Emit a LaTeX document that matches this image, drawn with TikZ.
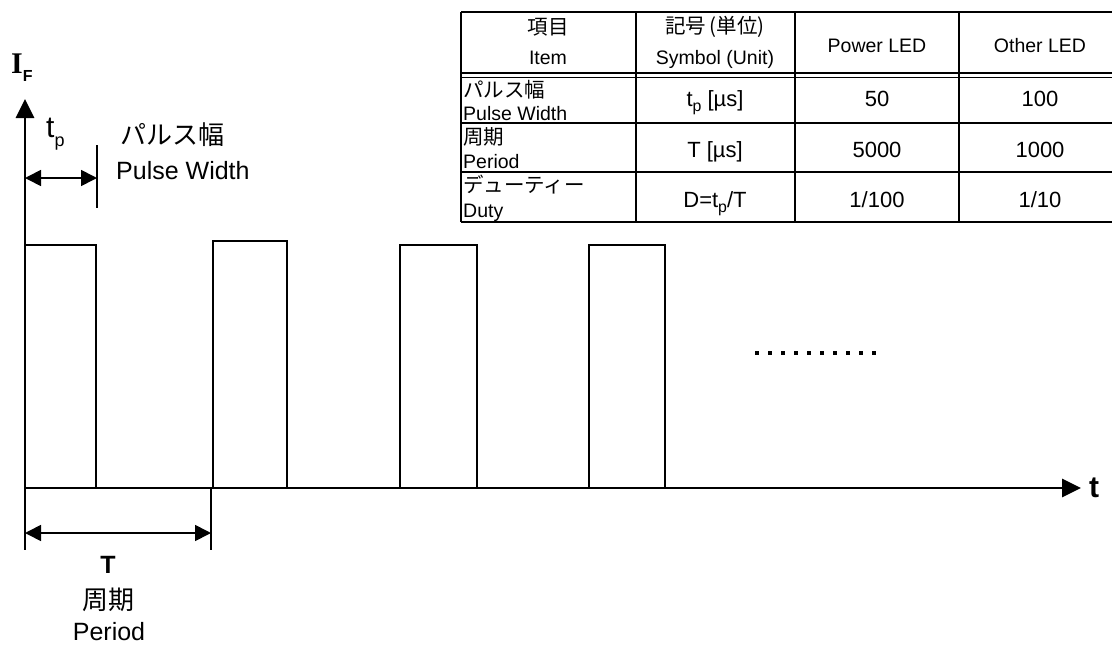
\documentclass[tikz,border=0pt]{standalone}
\usepackage{fontspec}
\usepackage{graphicx}
\setmainfont{Liberation Sans}
\newfontfamily\jp{Noto Sans CJK JP}
\newfontfamily\serifb{Liberation Serif}
\usetikzlibrary{arrows.meta}
\newcommand\sbs[1]{\raisebox{-0.25em}{\scalebox{0.72}{#1}}}
\begin{document}
\begin{tikzpicture}[x=1pt,y=-1pt,
  axis/.style={line width=2.8pt,-{Triangle[length=19pt,width=18pt]}},
  pulse/.style={line width=1.9pt},
  dimarrow/.style={line width=1.7pt,{Triangle[length=16pt,width=16pt]}-{Triangle[length=16pt,width=16pt]}},
  dimtick/.style={line width=1.6pt},
  rule/.style={line width=2.3pt},
  thinrule/.style={line width=1.7pt},
  big/.style={inner sep=0pt,font=\fontsize{25}{28}\selectfont},
  bigjp/.style={inner sep=0pt,font=\jp\fontsize{26}{28}\selectfont},
  cell/.style={inner sep=0pt,font=\fontsize{19.5}{21}\selectfont},
  celljp/.style={inner sep=0pt,font=\jp\fontsize{20.5}{22}\selectfont},
  val/.style={inner sep=0pt,anchor=base,font=\fontsize{22}{24}\selectfont},
  dotmark/.style={fill=black}
]
\useasboundingbox (0,0) rectangle (1112,645);

% ---------- axes ----------
\coordinate (O) at (25,488);
\coordinate (Ytip) at (25,99);
\coordinate (Xtip) at (1081,488);
\draw[axis] (O) -- (Ytip);
\draw[axis] (O) -- (Xtip);
\node[anchor=base west,inner sep=0pt] (IF) at (11,73)
  {{\serifb\bfseries\fontsize{30}{30}\selectfont I}\raisebox{-8pt}{\bfseries\fontsize{16}{16}\selectfont F}};
\node[anchor=base west,inner sep=0pt,font=\bfseries\fontsize{30}{30}\selectfont] (tlbl) at (1089,497) {t};

% ---------- pulses ----------
\draw[pulse] (25,245) -- (96,245) -- (96,488);
\draw[pulse] (213,488) -- (213,241) -- (287,241) -- (287,488);
\draw[pulse] (400,488) -- (400,245) -- (477,245) -- (477,488);
\draw[pulse] (589,488) -- (589,245) -- (665,245) -- (665,488);

% dots
\foreach \i in {0,...,9}
  \fill[dotmark] (757+13*\i-1.6,351.4) rectangle ++(3.2,3.2);

% ---------- tp dimension ----------
\coordinate (tpA) at (25,178);
\coordinate (tpB) at (97,178);
\coordinate (tpT1) at (97,145);
\coordinate (tpT2) at (97,208);
\draw[dimtick] (tpT1) -- (tpT2);
\draw[dimarrow] (tpA) -- (tpB);
\node[anchor=base west,inner sep=0pt] (tplbl) at (46,137)
  {\fontsize{30}{30}\selectfont t\raisebox{-9pt}{\fontsize{18}{18}\selectfont p}};
\node[bigjp,anchor=base west] (pw1) at (120,144) {パルス幅};
\node[big,anchor=base west] (pw2) at (116,179) {Pulse Width};

% ---------- T dimension ----------
\coordinate (TT1a) at (25,488);
\coordinate (TT1b) at (25,550);
\coordinate (TT2a) at (211,488);
\coordinate (TT2b) at (211,550);
\coordinate (TA) at (25,533);
\coordinate (TB) at (211,533);
\draw[dimtick] (TT1a) -- (TT1b);
\draw[dimtick] (TT2a) -- (TT2b);
\draw[dimarrow] (TA) -- (TB);
\node[big,anchor=base,font=\bfseries\fontsize{25}{28}\selectfont] (Tl) at (108,573) {T};
\node[bigjp] (Tj) at (108,600) {周期};
\node[big,anchor=base] (Pe) at (109,640) {Period};

% ---------- table ----------
\draw[rule] (461,12) -- (1114,12);
\draw[thinrule] (461,73) -- (1114,73);
\draw[thinrule] (461,77.5) -- (1114,77.5);
\draw[rule] (461,123) -- (1114,123);
\draw[rule] (461,172) -- (1114,172);
\draw[rule] (461,222) -- (1114,222);
\foreach \x in {461,636,795,959}
  \draw[rule] (\x,12) -- (\x,222);

\node[celljp] (h1a) at (548,27) {項目};
\node[cell,anchor=base] (h1b) at (548,64) {Item};
\node[celljp] (h2a) at (715,27) {記号\,(単位)};
\node[cell,anchor=base] (h2b) at (715,64) {Symbol (Unit)};
\node[cell,anchor=base] (h3) at (877,52) {Power LED};
\node[cell,anchor=base] (h4) at (1040,52) {Other LED};

\node[celljp,anchor=west] (r1a) at (463,90) {パルス幅};
\node[cell,anchor=base west] (r1b) at (463,120) {Pulse Width};
\node[celljp,anchor=west] (r2a) at (463,137) {周期};
\node[cell,anchor=base west] (r2b) at (463,168) {Period};
\node[celljp,anchor=west] (r3a) at (463,185) {デューティー};
\node[cell,anchor=base west] (r3b) at (463,217) {Duty};

\node[val] (v12) at (715,106) {t\sbs{p} [µs]};
\node[val] (v13) at (877,106) {50};
\node[val] (v14) at (1040,106) {100};
\node[val] (v22) at (715,157) {T [µs]};
\node[val] (v23) at (877,157) {5000};
\node[val] (v24) at (1040,157) {1000};
\node[val] (v32) at (715,207) {D=t\sbs{p}/T};
\node[val] (v33) at (877,207) {1/100};
\node[val] (v34) at (1040,207) {1/10};
\end{tikzpicture}
\end{document}
